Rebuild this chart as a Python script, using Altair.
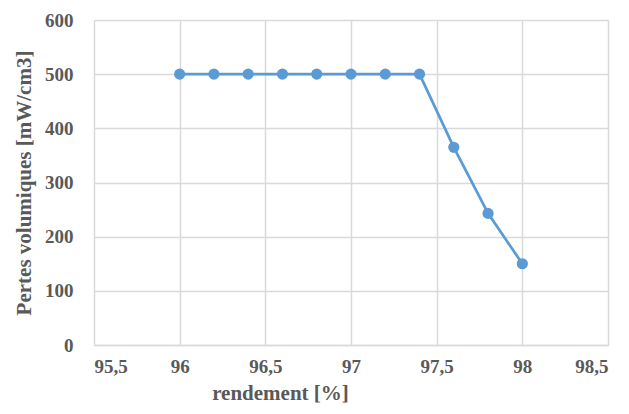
import altair as alt
import pandas as pd

rendement = [96.0, 96.2, 96.4, 96.6, 96.8, 97.0, 97.2, 97.4, 97.6, 97.8, 98.0]
pertes = [500, 500, 500, 500, 500, 500, 500, 500, 365, 243, 150]
x_ticks = [95.5, 96.0, 96.5, 97.0, 97.5, 98.0, 98.5]
y_ticks = [0, 100, 200, 300, 400, 500, 600]

df = pd.DataFrame({"rendement": rendement, "pertes": pertes})

FONT = "Liberation Serif"
GRAY = "#595959"
BLUE = "#5B9BD5"

base = alt.Chart(df).encode(
    x=alt.X(
        "rendement:Q",
        scale=alt.Scale(domain=[95.5, 98.5], nice=False, zero=False),
        axis=alt.Axis(
            values=x_ticks,
            title="rendement [%]",
            labelExpr="replace(toString(datum.value), '.', ',')",
            grid=True,
            gridColor="#D9D9D9",
            gridWidth=1.5,
            ticks=False,
            domain=True,
            domainColor="#D9D9D9",
            domainWidth=1.5,
            labelPadding=12,
            titleX=186,
            titleY=54,
            titleAlign="center",
            titleBaseline="alphabetic",
        ),
    ),
    y=alt.Y(
        "pertes:Q",
        scale=alt.Scale(domain=[0, 600], nice=False),
        axis=alt.Axis(
            values=y_ticks,
            title="Pertes volumiques [mW/cm3]",
            grid=True,
            gridColor="#D9D9D9",
            gridWidth=1.5,
            ticks=False,
            domain=False,
            labelPadding=21,
            titlePadding=10,
        ),
    ),
)

line = base.mark_line(color=BLUE, strokeWidth=2.75)
points = base.mark_circle(color=BLUE, size=125, opacity=1)

chart = (
    (line + points)
    .properties(
        width=514,
        height=325,
        autosize=alt.AutoSizeParams(type="none"),
        padding={"left": 86, "top": 12, "right": 13, "bottom": 61},
    )
    .configure_view(stroke=None)
    .configure_axis(
        labelFont=FONT,
        labelFontSize=19,
        labelFontWeight="bold",
        labelColor=GRAY,
        titleFont=FONT,
        titleFontSize=21,
        titleFontWeight="bold",
        titleColor=GRAY,
    )
)

chart.save("out.html", embed_options={"renderer": "svg", "actions": False})
